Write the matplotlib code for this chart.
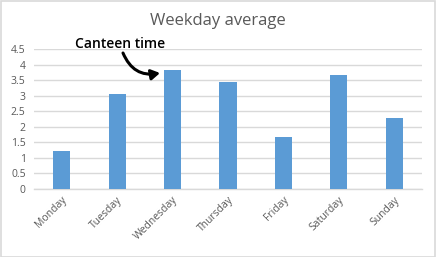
import matplotlib
matplotlib.use("Agg")
import matplotlib.pyplot as plt
from matplotlib.patches import Rectangle

days = ["Monday", "Tuesday", "Wednesday", "Thursday", "Friday", "Saturday", "Sunday"]
values = [1.22, 3.05, 3.83, 3.45, 1.67, 3.67, 2.28]
yticks = [0, 0.5, 1, 1.5, 2, 2.5, 3, 3.5, 4, 4.5]
ytick_labels = ["0", "0.5", "1", "1.5", "2", "2.5", "3", "3.5", "4", "4.5"]
title = "Weekday average"
note = "Canteen time"

W, H = 436, 257
fig = plt.figure(figsize=(W / 100, H / 100), dpi=100)
fig.patch.set_facecolor("white")
fig.patches.append(Rectangle((0.5 / W, 0.5 / H), 1 - 1.5 / W, 1 - 1.5 / H,
                             transform=fig.transFigure, fill=False,
                             edgecolor="#d9d9d9", linewidth=1.2))

ax = fig.add_axes([34 / W, 1 - 189 / H, (422 - 34) / W, (189 - 49) / H])
x = list(range(len(days)))
ax.bar(x, values, width=0.31, color="#5b9bd5", zorder=3)
ax.set_xlim(-0.5, len(days) - 0.5)
ax.set_ylim(0, 4.5)
ax.set_yticks(yticks)
ax.set_yticklabels(ytick_labels)
ax.set_xticks(x)
ax.set_xticklabels(days, rotation=45, ha="right", rotation_mode="anchor")
ax.grid(axis="y", color="#d9d9d9", linewidth=1, zorder=0)
for s in ["top", "right", "left"]:
    ax.spines[s].set_visible(False)
ax.spines["bottom"].set_color("#d9d9d9")
ax.spines["bottom"].set_linewidth(1)
ax.tick_params(axis="both", length=0, labelsize=7.5, labelcolor="#595959")
ax.tick_params(axis="y", pad=6)
ax.tick_params(axis="x", pad=4)
for lbl in ax.get_xticklabels() + ax.get_yticklabels():
    lbl.set_family("Open Sans")

fig.text(218 / W, 1 - 21 / H, title, ha="center", va="center",
         fontsize=12, color="#595959", family="Open Sans")

# annotation text and curved arrow
ax.text(120 / W, 1 - 44 / H, note, transform=fig.transFigure,
        ha="center", va="center", fontsize=10, fontweight="semibold",
        color="black", family="Open Sans")
ax.annotate("", xy=(160 / W, 1 - 73 / H), xytext=(123 / W, 1 - 53 / H),
            xycoords="figure fraction", textcoords="figure fraction",
            annotation_clip=False,
            arrowprops=dict(arrowstyle="-|>,head_length=0.5,head_width=0.3",
                            color="black", lw=2.2, shrinkA=0, shrinkB=0,
                            connectionstyle="arc3,rad=0.4"))

fig.savefig("out.png", dpi=100)
